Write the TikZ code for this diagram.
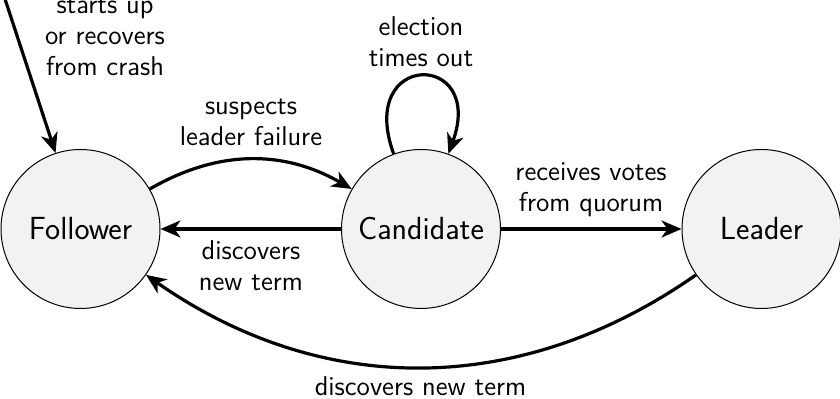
\documentclass[tikz,border=0pt]{standalone}
\usetikzlibrary{arrows.meta}
\definecolor{statefill}{RGB}{242,242,242}
\begin{document}
\begin{tikzpicture}[x=0.5pt,y=0.5pt,
  state/.style={circle,draw=black,line width=0.5pt,fill=statefill,minimum size=79.5pt,inner sep=0pt,font=\sffamily\fontsize{16}{19}\selectfont},
  lbl/.style={align=center,inner sep=0pt,font=\sffamily\fontsize{13.6}{15.5}\selectfont},
  conn/.style={line width=1.6pt,-{Stealth[length=10pt,width=8.5pt,inset=3pt]}}]
\useasboundingbox (0,0) rectangle (840,399);
\node[state] (F) at (80.5,170) {Follower};
\node[state] (C) at (421,170) {Candidate};
\node[state] (L) at (761.5,170) {Leader};
\coordinate (init) at (4,403);
\node[lbl] (lstart) at (105,362) {starts up\\or recovers\\from crash};
\node[lbl] (lsusp) at (251,277) {suspects\\leader failure};
\node[lbl] (lelec) at (421,357) {election\\times out};
\node[lbl] (lvotes) at (591,209) {receives votes\\from quorum};
\node[lbl] (ldisc) at (251,133.5) {discovers\\new term};
\node[lbl] (ldisc2) at (420.5,13) {discovers new term};
\draw[conn] (init) -- (F);
\draw[conn] (F) to[bend left=30] (C);
\draw[conn] (C) -- (F);
\draw[conn] (C) -- (L);
\draw[conn] (C.110) .. controls +(110:110) and +(70:110) .. (C.70);
\draw[conn] (L) to[bend left=35] (F);
\end{tikzpicture}
\end{document}
